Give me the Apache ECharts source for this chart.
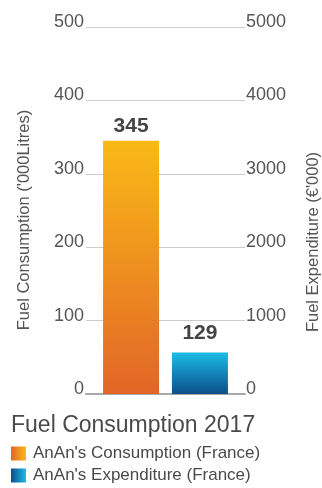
<!DOCTYPE html>
<html>
<head>
<meta charset="utf-8">
<script src="https://cdn.jsdelivr.net/npm/echarts@6/dist/echarts.min.js"></script>
<style>
  html, body { margin: 0; padding: 0; background: #fff; }
  #chart { width: 322px; height: 488px; }
</style>
</head>
<body>
<div id="chart"></div>
<script>
  // data
  const categories = ["2017"];
  const consumption = [345];        // '000 litres, left axis
  const expenditure = [565];        // bar height on the right axis (€'000)
  const barLabels = ["345", "129"]; // numbers printed above the bars
  const seriesNames = ["AnAn's Consumption (France)", "AnAn's Expenditure (France)"];

  const font = "'Liberation Sans', Arial, sans-serif";
  const grad = (x2, y2, a, b) => new echarts.graphic.LinearGradient(0, 0, x2, y2, [
    { offset: 0, color: a },
    { offset: 1, color: b },
  ]);

  const orangeBar = grad(0, 1, "#fab917", "#e26527");
  const blueBar = grad(0, 1, "#1bbde5", "#0b4d8b");
  const orangeIcon = grad(1, 0, "#e26527", "#fab917");
  const blueIcon = grad(1, 0, "#0b4d8b", "#1bbde5");

  const chart = echarts.init(document.getElementById("chart"));

  const axisLabel = {
    fontFamily: font,
    fontSize: 18,
    color: "#555",
    verticalAlign: "bottom",
    padding: [0, 0, -4, 0],
    formatter: (v) => String(v),
  };

  // one legend block per line so both rows sit under the title
  const legendRow = (name, color, top) => ({
    left: 11,
    top: top,
    padding: 0,
    itemWidth: 15,
    itemHeight: 14,
    icon: "rect",
    textStyle: { fontFamily: font, fontSize: 17, color: "#4a4a4a", padding: [0, 0, 0, 2] },
    data: [{ name: name, itemStyle: { color: color } }],
  });

  chart.setOption({
    animation: false,
    textStyle: { fontFamily: font },
    title: {
      text: "Fuel Consumption 2017",
      left: 11,
      top: 414,
      padding: 0,
      textStyle: { fontFamily: font, fontSize: 23, fontWeight: "normal", color: "#4a4a4a" },
    },
    legend: [
      legendRow(seriesNames[0], orangeIcon, 445),
      legendRow(seriesNames[1], blueIcon, 467),
    ],
    grid: { left: 86, right: 77, top: 27, bottom: 94, containLabel: false },
    xAxis: {
      type: "category",
      data: categories,
      axisLine: { lineStyle: { color: "#a8a8a8", width: 2 } },
      axisTick: { show: false },
      axisLabel: { show: false },
    },
    yAxis: [
      {
        type: "value",
        min: 0,
        max: 500,
        interval: 100,
        axisLine: { show: false },
        axisTick: { show: false },
        splitLine: { lineStyle: { color: "#cccccc", width: 1 } },
        axisLabel: { ...axisLabel, margin: 2 },
      },
      {
        type: "value",
        min: 0,
        max: 5000,
        interval: 1000,
        position: "right",
        axisLine: { show: false },
        axisTick: { show: false },
        splitLine: { show: false },
        axisLabel: { ...axisLabel, margin: 1 },
      },
    ],
    graphic: [
      {
        type: "text",
        x: 24,
        y: 220,
        rotation: Math.PI / 2,
        style: {
          text: "Fuel Consumption ('000Litres)",
          font: "16.5px " + font,
          fill: "#555",
          align: "center",
          verticalAlign: "middle",
        },
      },
      {
        type: "text",
        x: 313,
        y: 242,
        rotation: Math.PI / 2,
        style: {
          text: "Fuel Expenditure (€'000)",
          font: "16.5px " + font,
          fill: "#555",
          align: "center",
          verticalAlign: "middle",
        },
      },
    ],
    series: [
      {
        name: seriesNames[0],
        type: "bar",
        yAxisIndex: 0,
        data: consumption,
        barWidth: 56,
        barGap: "23%",
        itemStyle: { color: orangeBar },
        label: {
          show: true,
          position: "top",
          distance: 4,
          formatter: () => barLabels[0],
          fontFamily: font,
          fontSize: 21,
          fontWeight: "bold",
          color: "#444",
        },
      },
      {
        name: seriesNames[1],
        type: "bar",
        yAxisIndex: 1,
        data: expenditure,
        barWidth: 56,
        itemStyle: { color: blueBar },
        label: {
          show: true,
          position: "top",
          distance: 9,
          formatter: () => barLabels[1],
          fontFamily: font,
          fontSize: 21,
          fontWeight: "bold",
          color: "#444",
        },
      },
    ],
  });
</script>
</body>
</html>
